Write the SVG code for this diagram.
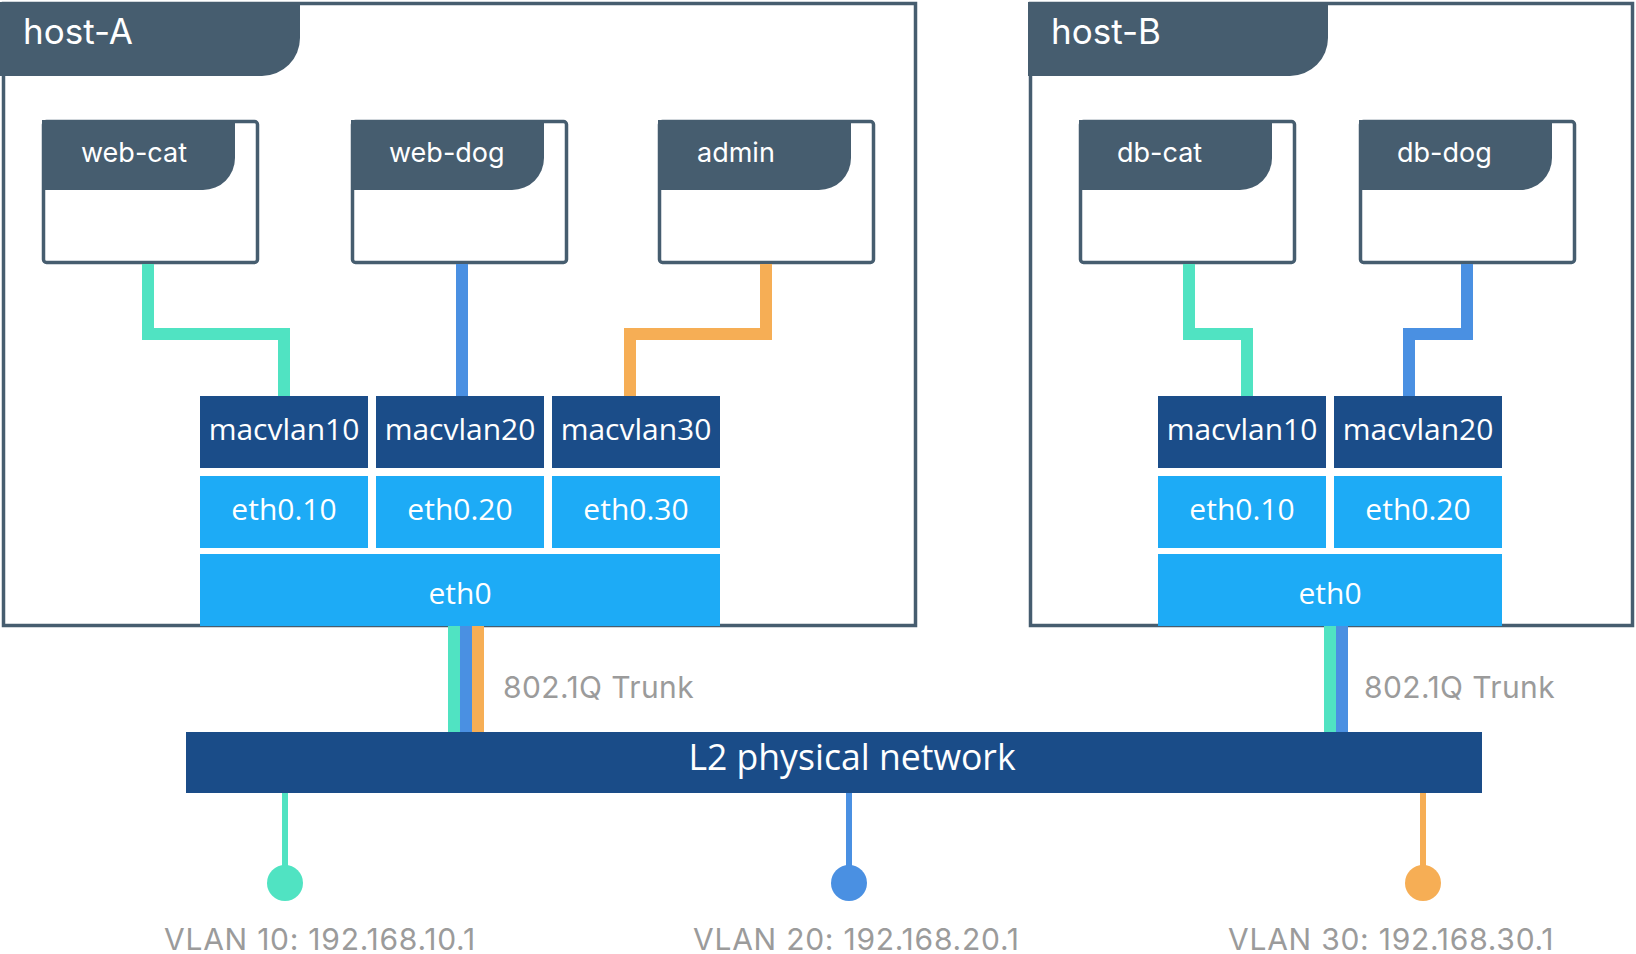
<svg xmlns="http://www.w3.org/2000/svg" width="1636" height="954" viewBox="0 0 1636 954">
<style>
.host{fill:#fff;stroke:#465D6F;stroke-width:3.5}
.hdr{fill:#465D6F}
.box{fill:#fff;stroke:#465D6F;stroke-width:3.5}
.hl{font-family:Inter,"Liberation Sans",sans-serif;font-size:35px;fill:#fff}
.cl{font-family:Inter,"Liberation Sans",sans-serif;font-size:27px;fill:#fff}
.mv{fill:#1B4D89}
.et{fill:#1DABF6}
.bt{font-family:"Open Sans","Liberation Sans",sans-serif;font-size:30px;fill:#fff;text-anchor:middle}
.gl{font-family:Inter,"Liberation Sans",sans-serif;font-size:30px;fill:#9B9B9B}
.vl{letter-spacing:0.75px}
.w{fill:none;stroke-width:12;stroke-linejoin:miter;stroke-linecap:butt}
.t{stroke:#50E3C2}.b{stroke:#4A90E2}.o{stroke:#F6AE55}
.tf{fill:#50E3C2}.bf{fill:#4A90E2}.of{fill:#F6AE55}
</style>
<g id="host-A">
<rect class="host" x="3.5" y="3.5" width="912" height="622"/>
<path class="hdr" d="M0 2H300V38A38 38 0 0 1 262 76H0Z"/>
<text class="hl" x="23" y="44">host-A</text>
</g>
<g id="host-B">
<rect class="host" x="1030.5" y="3.5" width="602" height="622"/>
<path class="hdr" d="M1028 2H1328V38A38 38 0 0 1 1290 76H1028Z"/>
<text class="hl" x="1051" y="44">host-B</text>
</g>
<g id="web-cat">
<rect class="box" x="43.5" y="121.5" width="214" height="141" rx="3"/>
<path class="hdr" d="M42 120H235V158A32 32 0 0 1 203 190H42Z"/>
<text class="cl" x="81" y="162">web-cat</text>
</g>
<g id="web-dog">
<rect class="box" x="352.5" y="121.5" width="214" height="141" rx="3"/>
<path class="hdr" d="M351 120H544V158A32 32 0 0 1 512 190H351Z"/>
<text class="cl" x="389" y="162">web-dog</text>
</g>
<g id="admin">
<rect class="box" x="659.5" y="121.5" width="214" height="141" rx="3"/>
<path class="hdr" d="M658 120H851V158A32 32 0 0 1 819 190H658Z"/>
<text class="cl" x="697" y="162">admin</text>
</g>
<g id="db-cat">
<rect class="box" x="1080.5" y="121.5" width="214" height="141" rx="3"/>
<path class="hdr" d="M1079 120H1272V158A32 32 0 0 1 1240 190H1079Z"/>
<text class="cl" x="1117" y="162">db-cat</text>
</g>
<g id="db-dog">
<rect class="box" x="1360.5" y="121.5" width="214" height="141" rx="3"/>
<path class="hdr" d="M1359 120H1552V158A32 32 0 0 1 1520 190H1359Z"/>
<text class="cl" x="1397" y="162">db-dog</text>
</g>
<g id="connectors">
<path class="w t" d="M148 264V334H284V396"/>
<path class="w b" d="M462 264V396"/>
<path class="w o" d="M766 264V334H630V396"/>
<path class="w t" d="M1189 264V334H1247V396"/>
<path class="w b" d="M1467 264V334H1409V396"/>
<rect class="tf" x="448" y="626" width="12" height="106"/>
<rect class="bf" x="460" y="626" width="12" height="106"/>
<rect class="of" x="472" y="626" width="12" height="106"/>
<rect class="tf" x="1324" y="626" width="12" height="106"/>
<rect class="bf" x="1336" y="626" width="12" height="106"/>
<path class="t" stroke-width="6" d="M285 793V870"/>
<path class="b" stroke-width="6" d="M849 793V870"/>
<path class="o" stroke-width="6" d="M1423 793V870"/>
</g>
<g id="macvlan10-A"><rect class="mv" x="200" y="396" width="168" height="72"/><text class="bt" x="284" y="440">macvlan10</text></g>
<g id="macvlan20-A"><rect class="mv" x="376" y="396" width="168" height="72"/><text class="bt" x="460" y="440">macvlan20</text></g>
<g id="macvlan30-A"><rect class="mv" x="552" y="396" width="168" height="72"/><text class="bt" x="636" y="440">macvlan30</text></g>
<g id="eth0.10-A"><rect class="et" x="200" y="476" width="168" height="72"/><text class="bt" x="284" y="520">eth0.10</text></g>
<g id="eth0.20-A"><rect class="et" x="376" y="476" width="168" height="72"/><text class="bt" x="460" y="520">eth0.20</text></g>
<g id="eth0.30-A"><rect class="et" x="552" y="476" width="168" height="72"/><text class="bt" x="636" y="520">eth0.30</text></g>
<g id="eth0-A"><rect class="et" x="200" y="554" width="520" height="72"/><text class="bt" x="460" y="604">eth0</text></g>
<g id="macvlan10-B"><rect class="mv" x="1158" y="396" width="168" height="72"/><text class="bt" x="1242" y="440">macvlan10</text></g>
<g id="macvlan20-B"><rect class="mv" x="1334" y="396" width="168" height="72"/><text class="bt" x="1418" y="440">macvlan20</text></g>
<g id="eth0.10-B"><rect class="et" x="1158" y="476" width="168" height="72"/><text class="bt" x="1242" y="520">eth0.10</text></g>
<g id="eth0.20-B"><rect class="et" x="1334" y="476" width="168" height="72"/><text class="bt" x="1418" y="520">eth0.20</text></g>
<g id="eth0-B"><rect class="et" x="1158" y="554" width="344" height="72"/><text class="bt" x="1330" y="604">eth0</text></g>
<text class="gl" style="letter-spacing:0.4px" x="503" y="698">802.1Q Trunk</text>
<text class="gl" style="letter-spacing:0.4px" x="1364" y="698">802.1Q Trunk</text>
<g id="l2">
<rect fill="#1A4C88" x="186" y="732" width="1296" height="61"/>
<text class="bt" style="font-size:35.6px" x="852" y="770">L2 physical network</text>
</g>
<g id="vlan10"><circle class="tf" cx="285" cy="883" r="18"/><text class="gl vl" x="164" y="950">VLAN 10: 192.168.10.1</text></g>
<g id="vlan20"><circle class="bf" cx="849" cy="883" r="18"/><text class="gl vl" x="693" y="950">VLAN 20: 192.168.20.1</text></g>
<g id="vlan30"><circle class="of" cx="1423" cy="883" r="18"/><text class="gl vl" x="1228" y="950">VLAN 30: 192.168.30.1</text></g>
</svg>
